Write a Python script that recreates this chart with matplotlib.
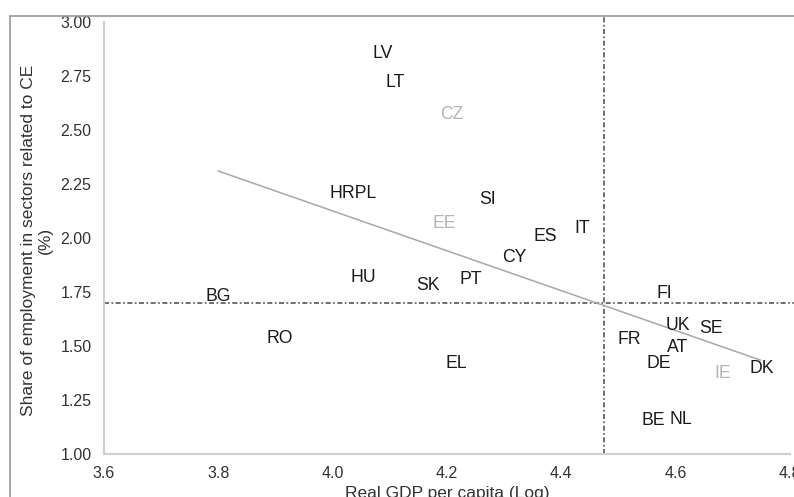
import matplotlib.pyplot as plt
from matplotlib.patches import Rectangle

plt.rcParams["font.family"] = ["Liberation Sans", "DejaVu Sans"]

# country codes and positions (real GDP per capita log, share of CE employment %)
countries = ["LV", "LT", "CZ", "HRPL", "SI", "EE", "ES", "IT", "CY", "HU", "SK", "PT",
             "BG", "RO", "EL", "FI", "UK", "SE", "FR", "AT", "DE", "IE", "DK", "BE", "NL"]
gdp_log = [4.088, 4.109, 4.209, 4.036, 4.270, 4.195, 4.371, 4.436, 4.317, 4.053, 4.167, 4.242,
           3.799, 3.908, 4.217, 4.580, 4.604, 4.662, 4.518, 4.604, 4.571, 4.683, 4.751, 4.560, 4.609]
ce_share = [2.856, 2.722, 2.574, 2.208, 2.176, 2.069, 2.005, 2.042, 1.912, 1.819, 1.778, 1.810,
            1.727, 1.537, 1.421, 1.745, 1.593, 1.579, 1.532, 1.495, 1.421, 1.375, 1.398, 1.153, 1.162]
greyed = ["CZ", "EE", "IE"]

# linear trend and averages
trend_x = [3.80, 4.748]
trend_y = [2.31, 1.435]
mean_gdp = 4.475
mean_share = 1.70

xticks = [3.6, 3.8, 4.0, 4.2, 4.4, 4.6, 4.8]
yticks = [1.00, 1.25, 1.50, 1.75, 2.00, 2.25, 2.50, 2.75, 3.00]


def main():
    fig = plt.figure(figsize=(7.94, 4.97), dpi=100)
    # outer frame of the original figure (cropped at right and bottom)
    fig.patches.append(Rectangle((10 / 794, -0.1), 1.2, 1.1 - 16 / 497, transform=fig.transFigure,
                                 fill=False, edgecolor="#9a9a9a", linewidth=1.2))
    ax = fig.add_axes([104 / 794, 43 / 497, 686 / 794, 432 / 497])

    dash = (0, (3, 1.5, 1, 1.5))
    ax.plot(trend_x, trend_y, color="#a8a8a8", linewidth=1.1, zorder=2)
    ax.plot([3.6, 4.85], [mean_share, mean_share], color="#555555", linewidth=1.2,
            linestyle=dash, clip_on=False, zorder=1)
    ax.plot([mean_gdp, mean_gdp], [1.0, 3.025], color="#555555", linewidth=1.2,
            linestyle=dash, clip_on=False, zorder=1)

    for name, x, y in zip(countries, gdp_log, ce_share):
        color = "#b4b4b4" if name in greyed else "#1a1a1a"
        ax.text(x, y, name, ha="center", va="center", fontsize=12.7, color=color, zorder=3)

    ax.set_xlim(3.6, 4.8)
    ax.set_ylim(1.0, 3.0)
    ax.set_xticks(xticks)
    ax.set_xticklabels([f"{t:.1f}" for t in xticks])
    ax.set_yticks(yticks)
    ax.set_yticklabels([f"{t:.2f}" for t in yticks])
    ax.tick_params(length=0, labelsize=11.5, colors="#333333")
    ax.tick_params(axis="y", pad=9)
    ax.tick_params(axis="x", pad=9)

    for side in ["top", "right"]:
        ax.spines[side].set_visible(False)
    for side in ["left", "bottom"]:
        ax.spines[side].set_color("#d0d0d0")
        ax.spines[side].set_linewidth(1.5)

    fig.text(447 / 794, -0.003, "Real GDP per capita (Log)", fontsize=12.5, color="#333333",
             ha="center", va="baseline")
    fig.text(37 / 794, 1 - 240 / 497, "Share of employment in sectors related to CE\n(%)",
             fontsize=12.5, color="#333333", ha="center", va="center", rotation=90,
             multialignment="center", linespacing=1.1)

    fig.savefig("out.png", dpi=100)


if __name__ == "__main__":
    main()
